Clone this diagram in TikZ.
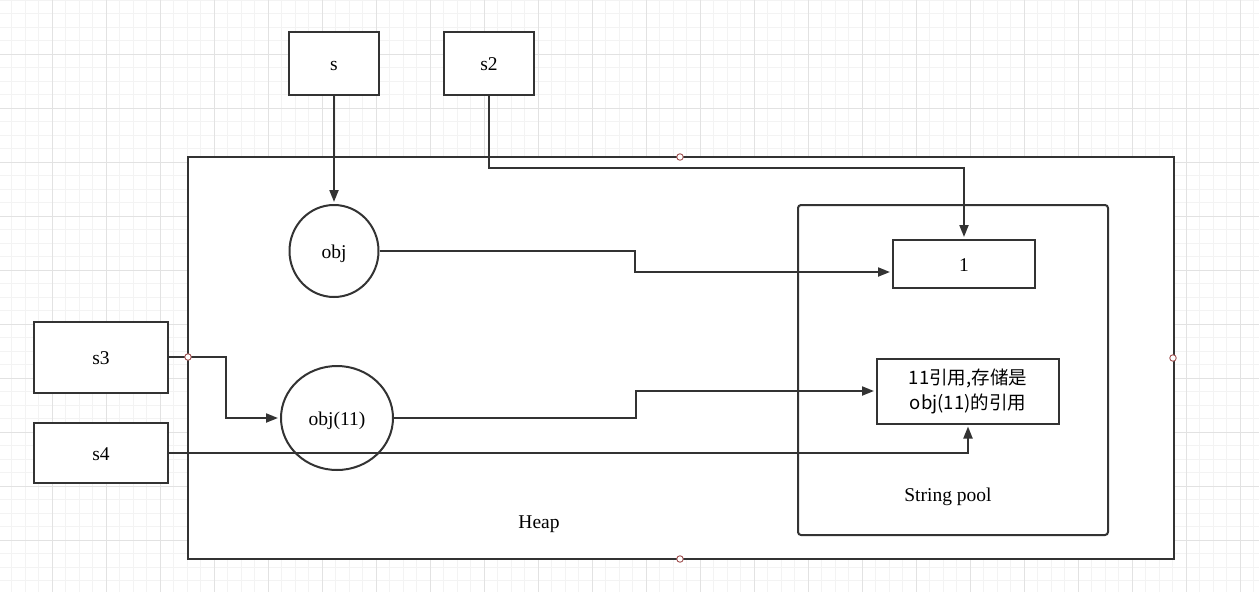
\documentclass[tikz,border=0pt]{standalone}
\usepackage{fontspec}
\setmainfont{Liberation Serif}
\newfontfamily\cjk{Noto Sans CJK SC}
\usetikzlibrary{arrows.meta,shapes.geometric}
\definecolor{ink}{HTML}{333333}
\definecolor{gridminor}{HTML}{F3F3F3}
\definecolor{gridmajor}{HTML}{E2E2E2}
\definecolor{handle}{HTML}{A05050}
\tikzset{
  box/.style={draw=ink,line width=2pt,fill=white,rectangle,inner sep=0pt,
    text height=18pt,text depth=4pt,font=\fontsize{19.5}{23}\selectfont},
  oval/.style={draw=ink,line width=2pt,fill=white,ellipse,inner sep=0pt,
    text height=18pt,text depth=4pt,font=\fontsize{19.5}{23}\selectfont},
  lbl/.style={inner sep=0pt,text height=18pt,text depth=4pt,font=\fontsize{19.5}{23}\selectfont},
  arr/.style={draw=ink,line width=2pt,-{Triangle[length=12pt,width=9pt]},shorten >=2pt},
  hdl/.style={circle,draw=handle,fill=white,line width=0.9pt,minimum size=6.5pt,inner sep=0pt},
}
\begin{document}
\begin{tikzpicture}[x=1pt,y=-1pt]
\useasboundingbox (0,0) rectangle (1259,592);
\fill[white] (0,0) rectangle (1259,592);
% grid
\foreach \i in {0,...,94} \draw[gridminor,line width=1pt] ({-2+13.5*\i},0) -- ({-2+13.5*\i},592);
\foreach \i in {0,...,44} \draw[gridminor,line width=1pt] (0,{13.5*\i}) -- (1259,{13.5*\i});
\foreach \i in {1,...,23} \draw[gridmajor,line width=1pt] ({-2+54*\i},0) -- ({-2+54*\i},592);
\foreach \i in {1,...,10} \draw[gridmajor,line width=1pt] (0,{54*\i}) -- (1259,{54*\i});

% containers
\node[box,minimum width=986pt,minimum height=402pt] (heap) at (681,358) {};
\node[box,rounded corners=3pt,minimum width=310pt,minimum height=330pt] (pool) at (953,370) {};
\node[lbl] (heaplbl) at (539,521) {Heap};
\node[lbl] (poollbl) at (948,494) {String pool};

% references
\node[box,minimum width=90pt,minimum height=63pt] (s) at (334,63.5) {s};
\node[box,minimum width=90pt,minimum height=63pt] (s2) at (489,63.5) {s2};
\node[box,minimum width=134pt,minimum height=71pt] (s3) at (101,357) {s3};
\node[box,minimum width=134pt,minimum height=60pt] (s4) at (101,453) {s4};

% objects
\node[oval,minimum width=89pt,minimum height=92pt] (obj) at (334,251) {obj};
\node[oval,minimum width=112pt,minimum height=104pt] (obj11) at (337,418) {obj(11)};
\node[box,minimum width=142pt,minimum height=48pt] (one) at (964,264) {1};
\node[box,minimum width=182pt,minimum height=65pt,align=center,text height=,text depth=,
      font=\cjk\fontsize{18.5}{25}\selectfont] (txt) at (968,391) {11引用,存储是\\obj(11)的引用};

% connectors
\draw[arr] (s.south) -- (obj.north);
\draw[arr] (s2.south) -- ++(0,72) -| (one.north);
\draw[arr] (obj.east) -- ++(255,0) |- ([yshift=-8pt]one.west);
\draw[arr] (s3.east) -- ++(57,0) |- (obj11.west);
\draw[arr] (obj11.east) -- ++(242,0) |- (txt.west);
\draw[arr] (s4.east) -| (txt.south);

% selection handles
\node[hdl] (h1) at (680,157) {};
\node[hdl] (h2) at (1173,358) {};
\node[hdl] (h3) at (680,559) {};
\node[hdl] (h4) at (188,357) {};
\end{tikzpicture}
\end{document}
